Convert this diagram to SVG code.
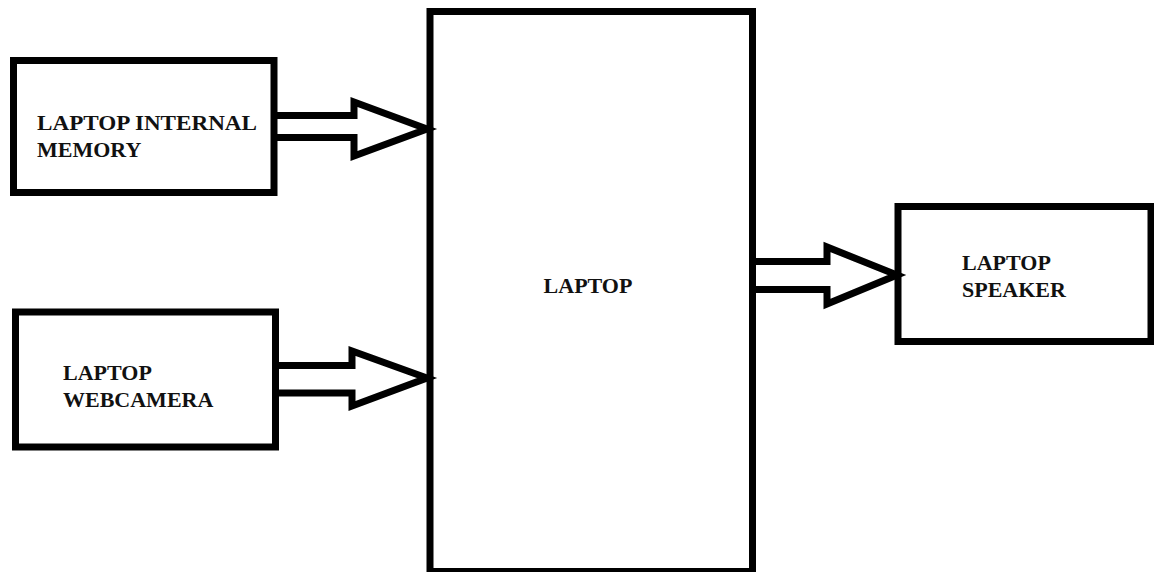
<svg xmlns="http://www.w3.org/2000/svg" width="1154" height="572" viewBox="0 0 1154 572">
  <style>
    .box { fill: #ffffff; stroke: #000000; stroke-width: 7; }
    .arrow { fill: none; stroke: #000000; stroke-width: 7; stroke-linejoin: miter; stroke-miterlimit: 10; }
    .lbl { font-family: "Liberation Serif", "Times New Roman", serif; font-weight: bold; font-size: 22px; fill: #111111; }
  </style>
  <rect x="0" y="0" width="1154" height="572" fill="#ffffff"/>
  <g id="node-laptop">
    <rect class="box" x="430" y="11.5" width="322.5" height="560"/>
    <text class="lbl" x="588" y="293" text-anchor="middle">LAPTOP</text>
  </g>
  <g id="node-memory">
    <rect class="box" x="13.5" y="60.5" width="260.5" height="132"/>
    <text class="lbl" x="37" y="130" textLength="220" lengthAdjust="spacingAndGlyphs">LAPTOP INTERNAL</text>
    <text class="lbl" x="37" y="157">MEMORY</text>
  </g>
  <g id="node-webcam">
    <rect class="box" x="15.5" y="312" width="260" height="135"/>
    <text class="lbl" x="63" y="380">LAPTOP</text>
    <text class="lbl" x="63" y="407">WEBCAMERA</text>
  </g>
  <g id="node-speaker">
    <rect class="box" x="898" y="206.5" width="253" height="135"/>
    <text class="lbl" x="962" y="270">LAPTOP</text>
    <text class="lbl" x="962" y="297">SPEAKER</text>
  </g>
  <g id="connectors">
    <path class="arrow" d="M274,115.5 H354 V102 L427,129 L354,156 V137.5 H274"/>
    <path class="arrow" d="M275,365.5 H352 V351 L427,378 L352,406 V393 H275"/>
    <path class="arrow" d="M752,261.5 H827 V247 L897,275 L827,304 V289.5 H752"/>
  </g>
</svg>
